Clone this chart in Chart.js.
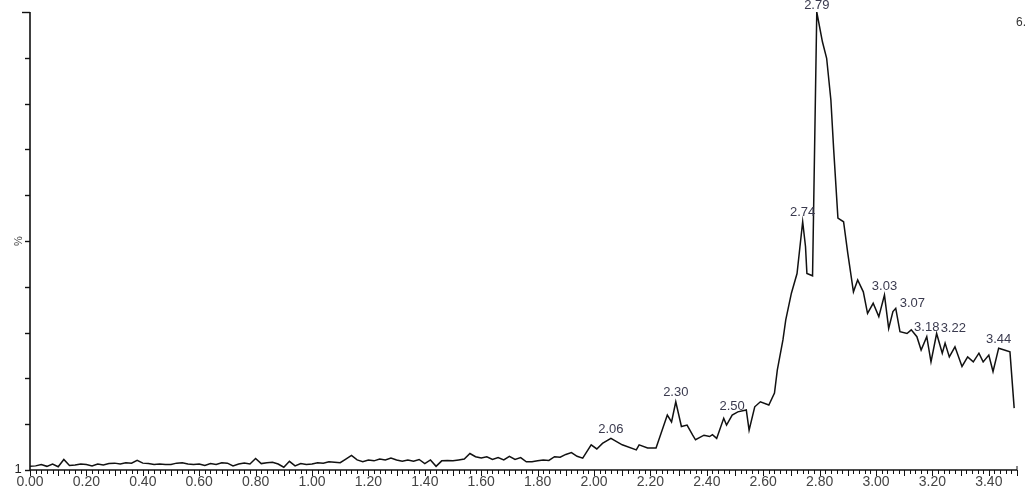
<!DOCTYPE html>
<html>
<head>
<meta charset="utf-8">
<script src="https://cdn.jsdelivr.net/npm/chart.js@4.4.1/dist/chart.umd.min.js"></script>
<style>
  html, body { margin: 0; padding: 0; background: #fff; }
  #wrap { width: 1029px; height: 495px; position: relative; }
</style>
</head>
<body>
<div id="wrap"><canvas id="tic"></canvas></div>
<script>
// ==== Data ====
const times = [
  0.00, 0.02, 0.04, 0.06, 0.08, 0.10, 0.12, 0.14, 0.16, 0.18,
  0.20, 0.22, 0.24, 0.26, 0.28, 0.30, 0.32, 0.34, 0.36, 0.38,
  0.40, 0.42, 0.44, 0.46, 0.48, 0.50, 0.52, 0.54, 0.56, 0.58,
  0.60, 0.62, 0.64, 0.66, 0.68, 0.70, 0.72, 0.74, 0.76, 0.78,
  0.80, 0.82, 0.84, 0.86, 0.88, 0.90, 0.92, 0.94, 0.96, 0.98,
  1.00, 1.02, 1.04, 1.06, 1.08, 1.10, 1.12, 1.14, 1.16, 1.18,
  1.20, 1.22, 1.24, 1.26, 1.28, 1.30, 1.32, 1.34, 1.36, 1.38,
  1.40, 1.42, 1.44, 1.46, 1.48, 1.50, 1.52, 1.54, 1.56, 1.58,
  1.60, 1.62, 1.64, 1.66, 1.68, 1.70, 1.72, 1.74, 1.76, 1.78,
  1.80, 1.82, 1.84, 1.86, 1.88, 1.90, 1.92, 1.94, 1.96,
  1.99, 2.01, 2.03, 2.06, 2.10, 2.15, 2.16, 2.19, 2.22, 2.26,
  2.275, 2.29, 2.31, 2.33, 2.35, 2.36, 2.39, 2.41, 2.42, 2.435,
  2.46, 2.47, 2.49, 2.51, 2.54, 2.55, 2.57, 2.59, 2.62, 2.64,
  2.65, 2.67, 2.68, 2.70, 2.72, 2.74, 2.75, 2.755, 2.775, 2.79,
  2.81, 2.825, 2.84, 2.85, 2.865, 2.885, 2.90, 2.92, 2.935, 2.955,
  2.97, 2.99, 3.01, 3.03, 3.045, 3.06, 3.07, 3.085, 3.11, 3.125,
  3.145, 3.16, 3.18, 3.195, 3.215, 3.235, 3.245, 3.26, 3.28, 3.305,
  3.325, 3.345, 3.365, 3.38, 3.40, 3.415, 3.435, 3.455, 3.475, 3.49
];
const intensity = [
  0.8, 0.9, 1.2, 0.8, 1.3, 0.7, 2.3, 1.0, 1.1, 1.3,
  1.2, 0.9, 1.3, 1.1, 1.4, 1.5, 1.3, 1.6, 1.5, 2.1,
  1.5, 1.4, 1.2, 1.3, 1.2, 1.2, 1.5, 1.6, 1.3, 1.2,
  1.3, 1.0, 1.4, 1.2, 1.6, 1.5, 0.9, 1.3, 1.5, 1.3,
  2.5, 1.4, 1.6, 1.7, 1.3, 0.6, 1.9, 0.9, 1.4, 1.2,
  1.3, 1.6, 1.5, 1.8, 1.7, 1.6, 2.4, 3.2, 2.2, 1.8,
  2.2, 2.0, 2.4, 2.2, 2.6, 2.2, 1.9, 2.2, 1.9, 2.3,
  1.4, 2.2, 0.8, 2.0, 2.1, 2.0, 2.2, 2.4, 3.6, 2.9,
  2.6, 2.9, 2.3, 2.7, 2.2, 3.0, 2.3, 2.7, 1.8, 1.8,
  2.0, 2.2, 2.1, 2.9, 2.8, 3.4, 3.8, 3.0, 2.6,
  5.5, 4.6, 5.8, 6.9, 5.5, 4.4, 5.5, 4.8, 4.8, 12.0,
  10.5, 14.9, 9.5, 9.8, 7.6, 6.6, 7.6, 7.3, 7.7, 6.9,
  11.3, 9.8, 12.0, 12.7, 13.1, 8.7, 13.8, 14.9, 14.2, 16.8,
  21.8, 28.4, 32.8, 38.6, 42.9, 54.2, 48.8, 42.9, 42.4, 100,
  93.5, 89.9, 80.8, 69.9, 55.0, 54.2, 47.3, 38.9, 41.5, 38.9,
  34.2, 36.4, 33.5, 38.2, 30.9, 34.6, 35.3, 30.2, 29.8, 30.6,
  29.1, 26.2, 29.1, 23.6, 29.8, 25.5, 27.7, 24.7, 26.9, 22.6,
  24.7, 23.6, 25.5, 23.6, 25.1, 21.5, 26.6, 26.2, 25.8, 13.5
];
const peakLabels = ['2.06', '2.30', '2.50', '2.74', '2.79', '3.03', '3.07', '3.18', '3.22', '3.44'];
const xTickLabels = ['0.00', '0.20', '0.40', '0.60', '0.80', '1.00', '1.20', '1.40', '1.60',
  '1.80', '2.00', '2.20', '2.40', '2.60', '2.80', '3.00', '3.20', '3.40'];
const yTicks = [0, 10, 20, 30, 40, 50, 60, 70, 80, 90, 100];

// ==== Axis / annotation drawing ====
const chromAxes = {
  id: 'chromAxes',
  afterDraw(chart) {
    const ctx = chart.ctx;
    const xs = chart.scales.x, ys = chart.scales.y;
    const left = xs.getPixelForValue(0);
    const right = xs.getPixelForValue(3.5);
    const base = ys.getPixelForValue(0);
    const top = ys.getPixelForValue(100);

    ctx.save();
    ctx.strokeStyle = '#111';
    ctx.lineWidth = 1.6;
    ctx.beginPath();
    ctx.moveTo(left, top);
    ctx.lineTo(left, base);
    ctx.lineTo(right, base);
    ctx.stroke();

    // y ticks point left
    ctx.lineWidth = 1.4;
    yTicks.forEach(v => {
      const y = Math.round(ys.getPixelForValue(v)) + 0.5;
      const len = v === 100 ? 8 : 5;
      ctx.beginPath();
      ctx.moveTo(left - len, y);
      ctx.lineTo(left, y);
      ctx.stroke();
    });

    // x ticks point down, minor every 0.02, major every 0.1
    ctx.lineWidth = 1;
    for (let i = 0; i <= 175; i++) {
      const x = Math.round(xs.getPixelForValue(i * 0.02)) + 0.5;
      const len = i % 5 === 0 ? 6 : 4;
      ctx.beginPath();
      ctx.moveTo(x, base);
      ctx.lineTo(x, base + len);
      ctx.stroke();
    }
    ctx.beginPath();
    ctx.moveTo(right, base);
    ctx.lineTo(right, base - 4);
    ctx.stroke();

    ctx.fillStyle = '#444';
    ctx.font = '14px "Liberation Sans", Arial, sans-serif';
    ctx.textAlign = 'center';
    ctx.textBaseline = 'middle';
    xTickLabels.forEach(lbl => {
      ctx.fillText(lbl, xs.getPixelForValue(parseFloat(lbl)), base + 12);
    });

    ctx.fillStyle = '#222';
    ctx.font = '13px "Liberation Sans", Arial, sans-serif';
    ctx.fillText('1', left - 12, base - 1);

    ctx.save();
    ctx.translate(left - 11, ys.getPixelForValue(50));
    ctx.rotate(-Math.PI / 2);
    ctx.font = '11px "Liberation Sans", Arial, sans-serif';
    ctx.fillStyle = '#444';
    ctx.fillText('%', 0, 0);
    ctx.restore();

    ctx.textAlign = 'left';
    ctx.font = '12px "Liberation Sans", Arial, sans-serif';
    ctx.fillStyle = '#333';
    ctx.fillText('6.', right - 1, top + 11);

    // peak labels
    ctx.font = '13px "Liberation Sans", Arial, sans-serif';
    ctx.fillStyle = '#3a3a4e';
    peakLabels.forEach(lbl => {
      const t = parseFloat(lbl);
      let best = 0;
      times.forEach((tt, i) => {
        if (Math.abs(tt - t) < Math.abs(times[best] - t)) best = i;
      });
      const px = xs.getPixelForValue(times[best]);
      const py = ys.getPixelForValue(intensity[best]);
      if (lbl === '3.07' || lbl === '3.22') {
        ctx.textAlign = 'left';
        ctx.fillText(lbl, px + 4, py - 5);
      } else {
        ctx.textAlign = 'center';
        ctx.fillText(lbl, px, Math.max(py - 9, 5));
      }
    });
    ctx.restore();
  }
};

// ==== Chart ====
new Chart(document.getElementById('tic').getContext('2d'), {
  type: 'line',
  data: {
    datasets: [{
      label: 'TIC',
      data: times.map((t, i) => ({ x: t, y: intensity[i] })),
      borderColor: '#111',
      borderWidth: 1.5,
      pointRadius: 0,
      tension: 0,
      fill: false
    }]
  },
  options: {
    responsive: true,
    maintainAspectRatio: false,
    animation: false,
    layout: { padding: { left: 30, right: 12, top: 12, bottom: 25 } },
    plugins: { legend: { display: false }, tooltip: { enabled: false } },
    scales: {
      x: { type: 'linear', min: 0, max: 3.5, display: false },
      y: { min: 0, max: 100, display: false }
    }
  },
  plugins: [chromAxes]
});
</script>
</body>
</html>
